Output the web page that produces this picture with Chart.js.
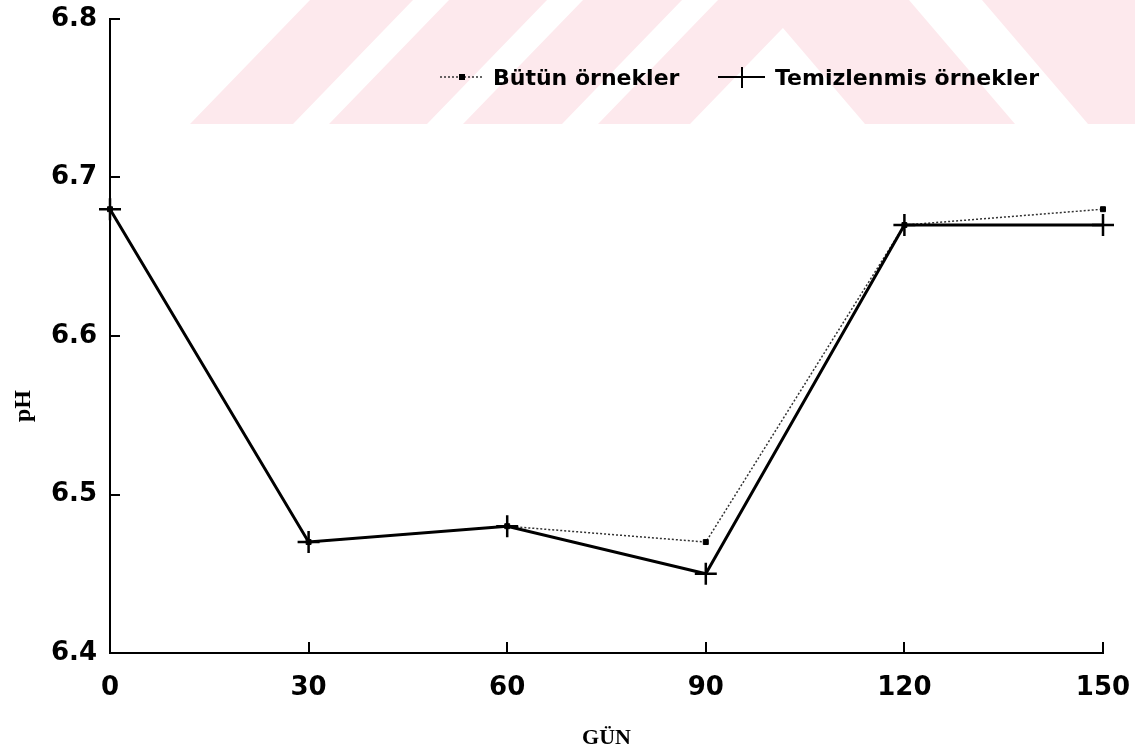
<!DOCTYPE html>
<html>
<head>
<meta charset="utf-8">
<script src="https://cdn.jsdelivr.net/npm/chart.js@4"></script>
<style>
  html, body { margin: 0; padding: 0; background: #fff; }
  #c { display: block; }
</style>
</head>
<body>
<canvas id="c" width="1135" height="753"></canvas>
<script>
// Storage time (days) and measured pH
const days = [0, 30, 60, 90, 120, 150];
const phAll = [6.68, 6.47, 6.48, 6.47, 6.67, 6.68];
const phCleaned = [6.68, 6.47, 6.48, 6.45, 6.67, 6.67];

// Axis ticks and labels
const dayTicks = [0, 30, 60, 90, 120, 150];
const phTicks = [6.4, 6.5, 6.6, 6.7, 6.8];
const seriesNames = ['Bütün örnekler', 'Temizlenmis örnekler'];
const xTitle = 'GÜN';
const yTitle = 'pH';

const SANS = '"DejaVu Sans", sans-serif';
const SERIF = '"Liberation Serif", "DejaVu Serif", serif';

// Light striped emblem printed behind the top of the page
const emblemPlugin = {
  id: 'emblem',
  beforeDraw(chart) {
    const ctx = chart.ctx;
    const yb = 124, yt = 0;
    const quad = (b1, b2, shift) => {
      ctx.beginPath();
      ctx.moveTo(b1, yb);
      ctx.lineTo(b2, yb);
      ctx.lineTo(b2 + shift, yt);
      ctx.lineTo(b1 + shift, yt);
      ctx.closePath();
      ctx.fill();
    };
    ctx.save();
    ctx.fillStyle = '#fde9ed';
    quad(190, 293, 120);
    quad(329, 427, 120);
    quad(463, 562, 120);
    quad(598, 690, 120);
    quad(865, 1015, -106);
    quad(1088, 1260, -106);
    ctx.restore();
  }
};

// Inward tick marks, axis titles and the legend box
const decorPlugin = {
  id: 'decor',
  afterDraw(chart) {
    const ctx = chart.ctx;
    const xs = chart.scales.x, ys = chart.scales.y;
    const area = chart.chartArea;
    ctx.save();
    ctx.strokeStyle = '#000';
    ctx.lineWidth = 2;
    ctx.setLineDash([]);
    dayTicks.forEach(v => {
      if (v === xs.min) return;
      const px = Math.round(xs.getPixelForValue(v));
      ctx.beginPath();
      ctx.moveTo(px, area.bottom);
      ctx.lineTo(px, area.bottom - 11);
      ctx.stroke();
    });
    phTicks.forEach(v => {
      if (v === ys.min) return;
      const py = Math.round(ys.getPixelForValue(v));
      ctx.beginPath();
      ctx.moveTo(area.left, py);
      ctx.lineTo(area.left + 10, py);
      ctx.stroke();
    });

    // axis titles
    ctx.fillStyle = '#000';
    ctx.font = 'bold 22px ' + SERIF;
    ctx.textAlign = 'center';
    ctx.textBaseline = 'middle';
    ctx.fillText(xTitle, (area.left + area.right) / 2, 738);
    ctx.save();
    ctx.translate(24, 406);
    ctx.rotate(-Math.PI / 2);
    ctx.font = 'bold 24px ' + SERIF;
    ctx.fillText(yTitle, 0, 0);
    ctx.restore();

    // legend
    const ds = chart.data.datasets;
    const ly = 77;
    ctx.textAlign = 'left';
    ctx.textBaseline = 'alphabetic';
    ctx.font = 'bold 22px ' + SANS;

    ctx.strokeStyle = ds[0].borderColor;
    ctx.lineWidth = ds[0].borderWidth;
    ctx.setLineDash(ds[0].borderDash);
    ctx.beginPath();
    ctx.moveTo(440, ly);
    ctx.lineTo(484, ly);
    ctx.stroke();
    ctx.setLineDash([]);
    ctx.fillStyle = ds[0].pointBackgroundColor;
    ctx.fillRect(459, ly - 3, 6, 6);
    ctx.fillStyle = '#000';
    ctx.fillText(ds[0].label, 493, 85);

    ctx.strokeStyle = ds[1].borderColor;
    ctx.lineWidth = 2;
    ctx.beginPath();
    ctx.moveTo(718, ly);
    ctx.lineTo(765, ly);
    ctx.moveTo(742, ly - 10);
    ctx.lineTo(742, ly + 11);
    ctx.stroke();
    ctx.fillText(ds[1].label, 775, 85);
    ctx.restore();
  }
};

const toPoints = vals => days.map((d, i) => ({ x: d, y: vals[i] }));

new Chart(document.getElementById('c'), {
  type: 'line',
  data: {
    datasets: [
      {
        label: seriesNames[0],
        data: toPoints(phAll),
        borderColor: '#333',
        borderWidth: 1.5,
        borderDash: [2, 2],
        pointStyle: 'rect',
        pointRadius: 3.5,
        pointBackgroundColor: '#000',
        pointBorderColor: '#000',
        pointBorderWidth: 1,
        tension: 0,
        clip: false,
        order: 1
      },
      {
        label: seriesNames[1],
        data: toPoints(phCleaned),
        borderColor: '#000',
        borderWidth: 3,
        pointStyle: 'cross',
        pointRadius: 11,
        pointBorderColor: '#000',
        pointBorderWidth: 2.5,
        tension: 0,
        clip: false,
        order: 0
      }
    ]
  },
  options: {
    responsive: false,
    animation: false,
    devicePixelRatio: 1,
    layout: { padding: { top: 19, right: 32, left: 0, bottom: 0 } },
    plugins: {
      legend: { display: false },
      tooltip: { enabled: false }
    },
    scales: {
      x: {
        type: 'linear',
        min: 0,
        max: 150,
        afterBuildTicks: s => { s.ticks = dayTicks.map(v => ({ value: v })); },
        afterFit: s => {
          s.height = 100;
          s.paddingLeft = 0;
          s.paddingRight = 0;
        },
        grid: { display: true, drawOnChartArea: false, drawTicks: false },
        border: { display: true, color: '#000', width: 2 },
        ticks: {
          padding: 20,
          color: '#000',
          font: { family: SANS, size: 26, weight: 'bold' },
          maxRotation: 0,
          callback: v => String(v)
        }
      },
      y: {
        type: 'linear',
        min: 6.4,
        max: 6.8,
        afterBuildTicks: s => { s.ticks = phTicks.map(v => ({ value: v })); },
        afterFit: s => {
          s.width = 110;
          s.paddingTop = 0;
          s.paddingBottom = 0;
        },
        grid: { display: true, drawOnChartArea: false, drawTicks: false },
        border: { display: true, color: '#000', width: 2 },
        ticks: {
          padding: 13,
          color: '#000',
          font: { family: SANS, size: 26, weight: 'bold' },
          callback: v => Number(v).toFixed(1)
        }
      }
    }
  },
  plugins: [emblemPlugin, decorPlugin]
});
</script>
</body>
</html>
